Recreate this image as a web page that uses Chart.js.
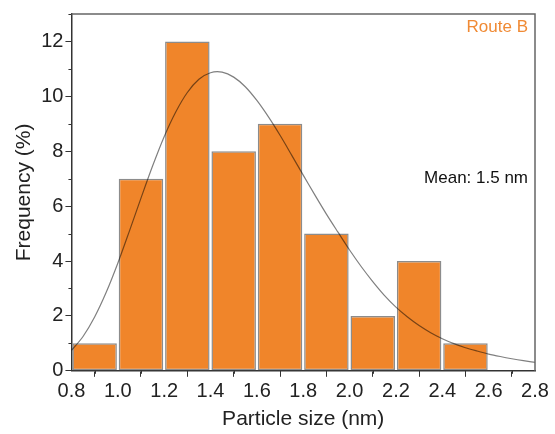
<!DOCTYPE html>
<html>
<head>
<meta charset="utf-8">
<script src="https://cdn.jsdelivr.net/npm/chart.js@4.4.0/dist/chart.umd.min.js"></script>
<style>
  body { margin: 0; background: #fff; }
  #chart { display: block; }
</style>
</head>
<body>
<canvas id="chart" width="555" height="434"></canvas>
<script>
// histogram bins (centres, nm) and frequency (%)
const binCentres = [0.9, 1.1, 1.3, 1.5, 1.7, 1.9, 2.1, 2.3, 2.5];
const frequency = [1, 7, 12, 8, 9, 5, 2, 4, 1];

// fitted distribution curve
const fitX = [0.80, 0.85, 0.90, 0.95, 1.00, 1.05, 1.10, 1.15, 1.20, 1.25, 1.30, 1.35, 1.40, 1.45, 1.50,
  1.55, 1.60, 1.65, 1.70, 1.75, 1.80, 1.85, 1.90, 1.95, 2.00, 2.05, 2.10, 2.15, 2.20, 2.25, 2.30,
  2.35, 2.40, 2.45, 2.50, 2.55, 2.60, 2.65, 2.70, 2.75, 2.80];
const fitY = [0.74, 1.25, 1.96, 2.86, 3.92, 5.09, 6.29, 7.46, 8.53, 9.43, 10.14, 10.62, 10.86, 10.88, 10.70,
  10.35, 9.85, 9.25, 8.58, 7.86, 7.13, 6.41, 5.71, 5.05, 4.40, 3.80, 3.25, 2.75, 2.32, 1.96, 1.65,
  1.39, 1.17, 0.99, 0.84, 0.72, 0.61, 0.52, 0.44, 0.37, 0.31];

const xTicksMajor = [0.8, 1.0, 1.2, 1.4, 1.6, 1.8, 2.0, 2.2, 2.4, 2.6, 2.8];
const yTicksMajor = [0, 2, 4, 6, 8, 10, 12];

Chart.defaults.font.family = "'Liberation Sans', Arial, sans-serif";
Chart.defaults.color = '#222';

const barData = binCentres.map((x, i) => ({ x: x, y: frequency[i] }));
const fitData = fitX.map((x, i) => ({ x: x, y: fitY[i] }));

// minor ticks, frame on top/right, and the two text notes
const extras = {
  id: 'extras',
  afterDraw(chart) {
    const { ctx, chartArea: a, scales: { x, y } } = chart;
    ctx.save();
    ctx.strokeStyle = '#333';
    ctx.lineWidth = 1;
    for (let i = 0; i < xTicksMajor.length - 1; i++) {
      const px = Math.round(x.getPixelForValue((xTicksMajor[i] + xTicksMajor[i + 1]) / 2)) + 0.5;
      ctx.beginPath(); ctx.moveTo(px, a.bottom); ctx.lineTo(px, a.bottom + 3); ctx.stroke();
    }
    for (let i = 0; i < yTicksMajor.length; i++) {
      const py = Math.round(y.getPixelForValue(yTicksMajor[i] + 1)) + 0.5;
      ctx.beginPath(); ctx.moveTo(a.left, py); ctx.lineTo(a.left - 3, py); ctx.stroke();
    }
    ctx.strokeStyle = '#666';
    ctx.lineWidth = 1.5;
    ctx.beginPath();
    ctx.moveTo(a.left, a.top);
    ctx.lineTo(a.right, a.top);
    ctx.lineTo(a.right, a.bottom);
    ctx.stroke();

    ctx.textAlign = 'right';
    ctx.textBaseline = 'middle';
    ctx.font = "17px 'Liberation Sans', Arial, sans-serif";
    ctx.fillStyle = '#f08a34';
    ctx.fillText('Route B', a.right - 7, y.getPixelForValue(12.5));
    ctx.fillStyle = '#111';
    ctx.fillText('Mean: 1.5 nm', a.right - 7, y.getPixelForValue(7.0));
    ctx.restore();
  }
};

new Chart(document.getElementById('chart'), {
  type: 'bar',
  data: {
    datasets: [
      {
        type: 'line',
        data: fitData,
        borderColor: 'rgba(0,0,0,0.5)',
        borderWidth: 1.2,
        pointRadius: 0,
        tension: 0.3,
        fill: false,
        order: 0
      },
      {
        type: 'bar',
        data: barData,
        backgroundColor: '#f0852a',
        borderColor: '#8c8c8c',
        borderWidth: 1.5,
        borderSkipped: false,
        barPercentage: 0.96,
        categoryPercentage: 1,
        order: 1
      }
    ]
  },
  options: {
    responsive: false,
    animation: false,
    layout: { padding: { left: 12, right: 20, top: 14, bottom: 2 } },
    plugins: { legend: { display: false }, tooltip: { enabled: false } },
    scales: {
      x: {
        type: 'linear',
        min: 0.8,
        max: 2.8,
        offset: false,
        afterBuildTicks: s => { s.ticks = xTicksMajor.map(v => ({ value: v })); },
        ticks: { font: { size: 20 }, padding: 3, maxRotation: 0, callback: v => v.toFixed(1) },
        grid: { drawOnChartArea: false, drawTicks: true, tickLength: 6, tickColor: '#333', tickWidth: 1 },
        border: { color: '#333', width: 1.5 },
        title: { display: true, text: 'Particle size (nm)', font: { size: 21 }, padding: { top: 0, bottom: 0 } }
      },
      y: {
        min: 0,
        max: 13,
        afterBuildTicks: s => { s.ticks = yTicksMajor.map(v => ({ value: v })); },
        ticks: { font: { size: 20 }, padding: 2 },
        grid: { drawOnChartArea: false, drawTicks: true, tickLength: 6, tickColor: '#333', tickWidth: 1 },
        border: { color: '#333', width: 1.5 },
        title: { display: true, text: 'Frequency (%)', font: { size: 21 }, padding: { top: 0, bottom: 2 } }
      }
    }
  },
  plugins: [extras]
});
</script>
</body>
</html>
